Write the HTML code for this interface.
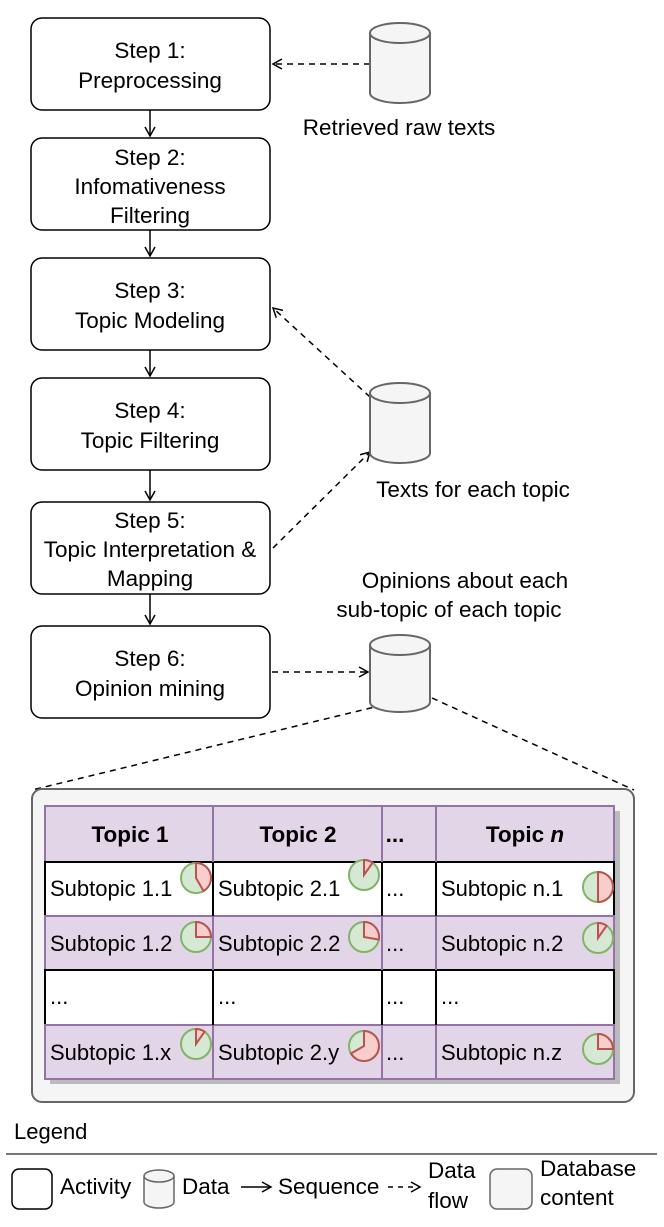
<!DOCTYPE html>
<html><head><meta charset="utf-8"><style>
html,body{margin:0;padding:0;background:#fff}
svg{display:block}
text{font-family:"Liberation Sans",Arial,sans-serif;fill:#000}
</style></head><body>
<svg width="664" height="1227" viewBox="0 0 664 1227" xmlns="http://www.w3.org/2000/svg">
<defs>
<marker id="oa" markerWidth="12" markerHeight="12" refX="10" refY="6" orient="auto" markerUnits="userSpaceOnUse">
<path d="M1,1 L10,6 L1,11" fill="none" stroke="#000" stroke-width="1.5"/>
</marker>
</defs>
<g fill="#fff" stroke="#000" stroke-width="1.5">
<rect x="31" y="18" width="239" height="92" rx="11"/>
<rect x="31" y="138" width="239" height="92" rx="11"/>
<rect x="31" y="258" width="239" height="92" rx="11"/>
<rect x="31" y="378" width="239" height="92" rx="11"/>
<rect x="31" y="502" width="239" height="92" rx="11"/>
<rect x="31" y="626" width="239" height="92" rx="11"/>
</g>
<g font-size="22.5" text-anchor="middle">
<text x="150" y="58">Step 1:</text><text x="150" y="88">Preprocessing</text>
<text x="150" y="165">Step 2:</text><text x="150" y="194">Infomativeness</text><text x="150" y="223">Filtering</text>
<text x="150" y="298">Step 3:</text><text x="150" y="328">Topic Modeling</text>
<text x="150" y="418">Step 4:</text><text x="150" y="448">Topic Filtering</text>
<text x="150" y="528">Step 5:</text><text x="150" y="557">Topic Interpretation &amp;</text><text x="150" y="586">Mapping</text>
<text x="150" y="666">Step 6:</text><text x="150" y="696">Opinion mining</text>
</g>
<g stroke="#000" stroke-width="1.5" marker-end="url(#oa)">
<line x1="150" y1="110" x2="150" y2="136"/>
<line x1="150" y1="230" x2="150" y2="256"/>
<line x1="150" y1="350" x2="150" y2="376"/>
<line x1="150" y1="470" x2="150" y2="500"/>
<line x1="150" y1="594" x2="150" y2="624"/>
</g>
<g stroke="#000" stroke-width="1.5" stroke-dasharray="6,5" fill="none" marker-end="url(#oa)">
<line x1="370" y1="64" x2="273" y2="64"/>
<line x1="370" y1="397" x2="273" y2="308"/>
<line x1="273" y1="548" x2="370" y2="452"/>
<line x1="272" y1="672" x2="368" y2="672"/>
</g>
<g stroke="#000" stroke-width="1.5" stroke-dasharray="6,5" fill="none">
<line x1="383" y1="705" x2="32" y2="790"/>
<line x1="432" y1="698" x2="634" y2="790"/>
</g>
<g fill="#f5f5f5" stroke="#666" stroke-width="2">
<path d="M370,33 L370,93 A30,10 0 0 0 430,93 L430,33"/><ellipse cx="400" cy="33" rx="30" ry="10"/>
<path d="M370,393 L370,453 A30,10 0 0 0 430,453 L430,393"/><ellipse cx="400" cy="393" rx="30" ry="10"/>
<path d="M370,645 L370,702 A30,10 0 0 0 430,702 L430,645"/><ellipse cx="400" cy="645" rx="30" ry="10"/>
</g>
<g font-size="22.5" text-anchor="middle">
<text x="399" y="135">Retrieved raw texts</text>
<text x="473" y="497">Texts for each topic</text>
<text x="465" y="588">Opinions about each</text>
<text x="449" y="617">sub-topic of each topic</text>
</g>
<rect x="32" y="789" width="602" height="313" rx="10" fill="#f5f5f5" stroke="#666" stroke-width="2"/>
<rect x="50" y="811" width="570" height="273" fill="#bbb"/>
<g stroke-width="2">
<rect x="45" y="806" width="569" height="56" fill="#e1d5e7" stroke="#9673a6"/>
<rect x="45" y="862" width="569" height="54" fill="#fff" stroke="#000"/>
<rect x="45" y="916" width="569" height="54" fill="#e1d5e7" stroke="#9673a6"/>
<rect x="45" y="970" width="569" height="55" fill="#fff" stroke="#000"/>
<rect x="45" y="1025" width="569" height="54" fill="#e1d5e7" stroke="#9673a6"/>
</g>
<g stroke="#9673a6" stroke-width="2">
<line x1="213" y1="806" x2="213" y2="862"/><line x1="382" y1="806" x2="382" y2="862"/><line x1="436" y1="806" x2="436" y2="862"/>
<line x1="213" y1="916" x2="213" y2="970"/><line x1="382" y1="916" x2="382" y2="970"/><line x1="436" y1="916" x2="436" y2="970"/>
<line x1="213" y1="1025" x2="213" y2="1079"/><line x1="382" y1="1025" x2="382" y2="1079"/><line x1="436" y1="1025" x2="436" y2="1079"/>
</g>
<g stroke="#000" stroke-width="2">
<line x1="213" y1="862" x2="213" y2="916"/><line x1="382" y1="862" x2="382" y2="916"/><line x1="436" y1="862" x2="436" y2="916"/>
<line x1="213" y1="970" x2="213" y2="1025"/><line x1="382" y1="970" x2="382" y2="1025"/><line x1="436" y1="970" x2="436" y2="1025"/>
</g>
<g font-size="22.5" font-weight="bold" text-anchor="middle">
<text x="130" y="842">Topic 1</text><text x="298" y="842">Topic 2</text><text x="395" y="842">...</text>
<text x="525" y="842">Topic <tspan font-style="italic">n</tspan></text>
</g>
<g font-size="22">
<text x="50" y="896">Subtopic 1.1</text><text x="218" y="896">Subtopic 2.1</text><text x="386" y="896">...</text><text x="441" y="896">Subtopic n.1</text>
<text x="50" y="951">Subtopic 1.2</text><text x="218" y="951">Subtopic 2.2</text><text x="386" y="951">...</text><text x="441" y="951">Subtopic n.2</text>
<text x="50" y="1004">...</text><text x="218" y="1004">...</text><text x="386" y="1004">...</text><text x="441" y="1004">...</text>
<text x="50" y="1060">Subtopic 1.x</text><text x="218" y="1060">Subtopic 2.y</text><text x="386" y="1060">...</text><text x="441" y="1060">Subtopic n.z</text>
</g>
<g stroke-width="2">
<circle cx="196" cy="878" r="15" fill="#d5e8d4" stroke="#82b366"/>
<path d="M196,878 L196,863 A15,15 0 0 1 203.5,891 Z" fill="#f8cecc" stroke="#b85450"/>
<circle cx="364" cy="875" r="15" fill="#d5e8d4" stroke="#82b366"/>
<path d="M364,875 L364,860 A15,15 0 0 1 372.6,862.7 Z" fill="#f8cecc" stroke="#b85450"/>
<circle cx="598" cy="887" r="15" fill="#d5e8d4" stroke="#82b366"/>
<path d="M598,887 L598,872 A15,15 0 0 1 598,902 Z" fill="#f8cecc" stroke="#b85450"/>
<circle cx="196" cy="937" r="15" fill="#d5e8d4" stroke="#82b366"/>
<path d="M196,937 L196,922 A15,15 0 0 1 211,937 Z" fill="#f8cecc" stroke="#b85450"/>
<circle cx="364" cy="937" r="15" fill="#d5e8d4" stroke="#82b366"/>
<path d="M364,937 L364,922 A15,15 0 0 1 378.8,939.6 Z" fill="#f8cecc" stroke="#b85450"/>
<circle cx="598" cy="938" r="15" fill="#d5e8d4" stroke="#82b366"/>
<path d="M598,938 L598,923 A15,15 0 0 1 606.6,925.7 Z" fill="#f8cecc" stroke="#b85450"/>
<circle cx="196" cy="1044" r="15" fill="#d5e8d4" stroke="#82b366"/>
<path d="M196,1044 L196,1029 A15,15 0 0 1 204.6,1031.7 Z" fill="#f8cecc" stroke="#b85450"/>
<circle cx="364" cy="1046" r="15" fill="#d5e8d4" stroke="#82b366"/>
<path d="M364,1046 L364,1031 A15,15 0 1 1 351,1053.5 Z" fill="#f8cecc" stroke="#b85450"/>
<circle cx="598" cy="1049" r="15" fill="#d5e8d4" stroke="#82b366"/>
<path d="M598,1049 L598,1034 A15,15 0 0 1 613,1049 Z" fill="#f8cecc" stroke="#b85450"/>
</g>
<text x="14" y="1139" font-size="22">Legend</text>
<line x1="6" y1="1154" x2="657" y2="1154" stroke="#777" stroke-width="2"/>
<rect x="12" y="1169" width="40" height="40" rx="7" fill="#fff" stroke="#000" stroke-width="1.5"/>
<text x="60" y="1194" font-size="22.5">Activity</text>
<path d="M144,1176 L144,1202 A15,6 0 0 0 174,1202 L174,1176" fill="#f5f5f5" stroke="#666" stroke-width="1.5"/>
<ellipse cx="159" cy="1176" rx="15" ry="6" fill="#f5f5f5" stroke="#666" stroke-width="1.5"/>
<text x="182" y="1194" font-size="22.5">Data</text>
<line x1="241" y1="1187" x2="271" y2="1187" stroke="#000" stroke-width="1.5" marker-end="url(#oa)"/>
<text x="278" y="1194" font-size="22.5">Sequence</text>
<line x1="388" y1="1187" x2="420" y2="1187" stroke="#000" stroke-width="1.5" stroke-dasharray="5,5" marker-end="url(#oa)"/>
<text x="428" y="1178" font-size="22.5">Data</text>
<text x="428" y="1208" font-size="22.5">flow</text>
<rect x="490" y="1169" width="42" height="40" rx="7" fill="#f5f5f5" stroke="#666" stroke-width="1.5"/>
<text x="540" y="1176" font-size="22.5">Database</text>
<text x="540" y="1205" font-size="22.5">content</text>
</svg>
</body></html>
